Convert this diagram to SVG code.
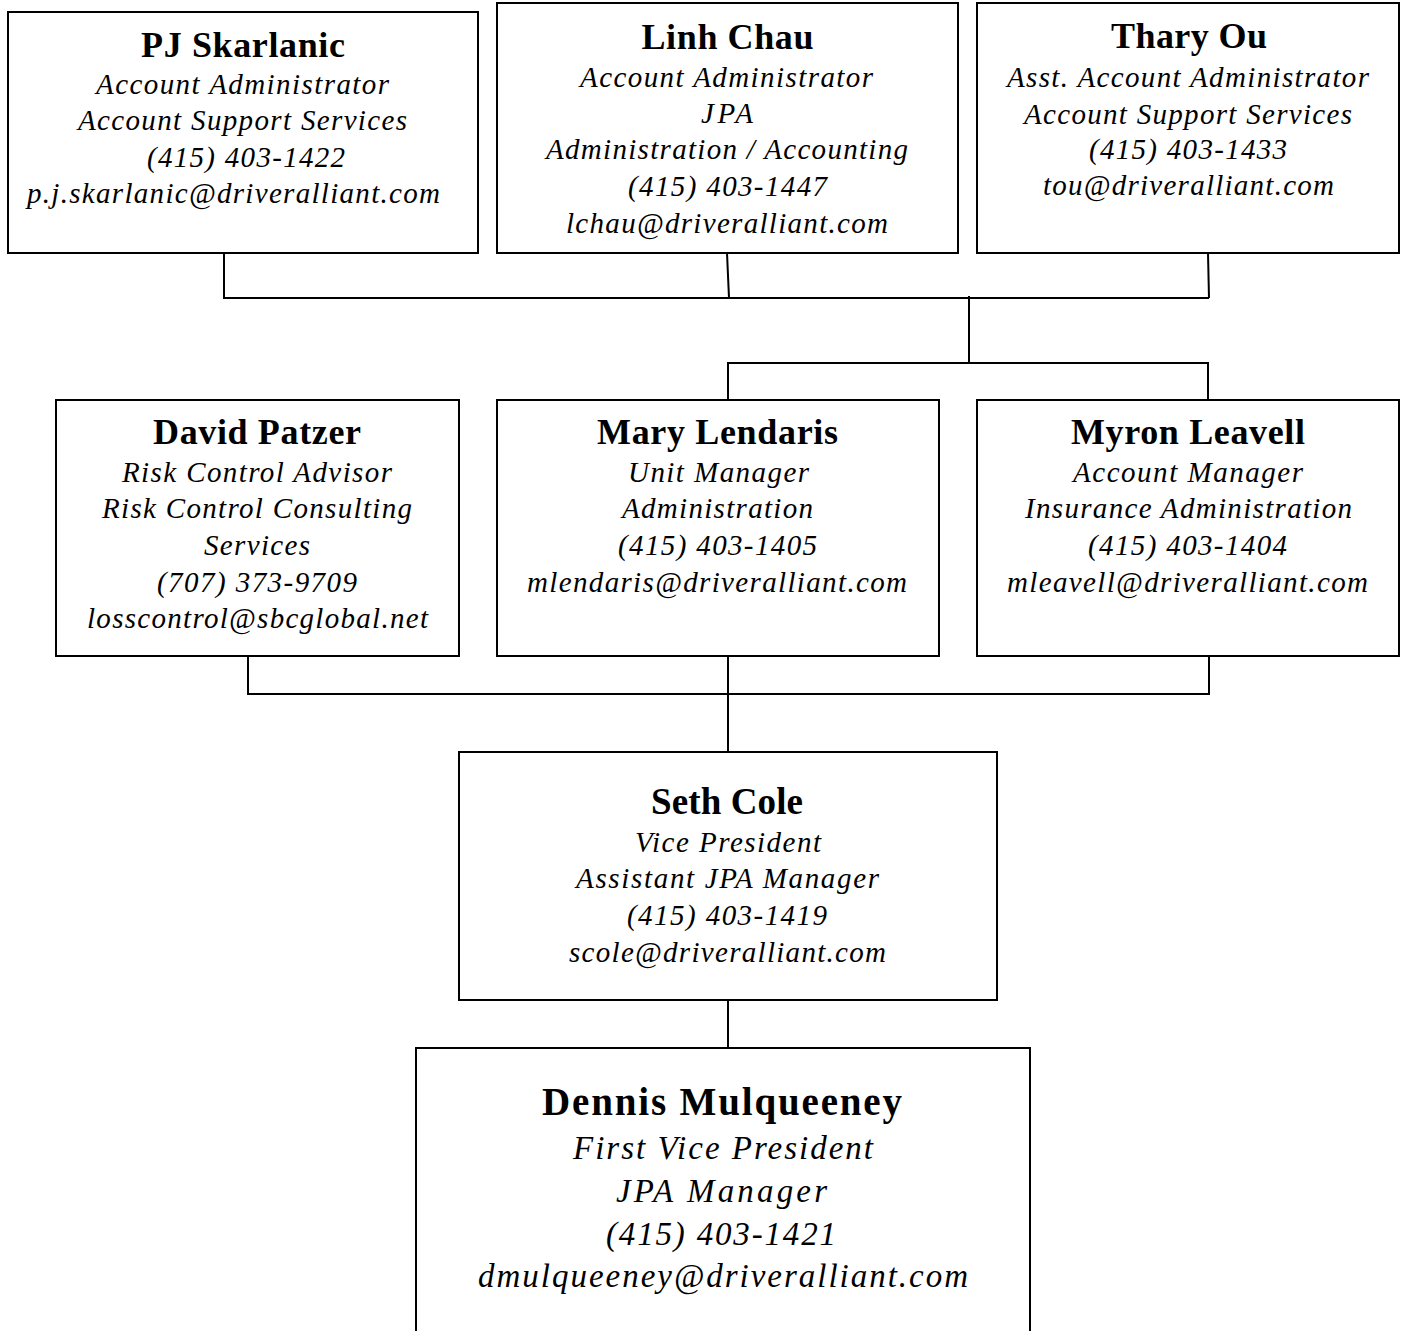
<svg xmlns="http://www.w3.org/2000/svg" width="1403" height="1331" viewBox="0 0 1403 1331">
<style>
.box{fill:#fff;stroke:#000;stroke-width:2}
.c{stroke:#000;stroke-width:2;fill:none}
text{font-family:"Liberation Serif","Times New Roman",serif;fill:#000;text-anchor:middle}
.n{font-weight:bold;font-size:36px}
.i{font-style:italic;font-size:29px}
.n2{font-weight:bold;font-size:37px}
.n3{font-weight:bold;font-size:39px}
.i3{font-style:italic;font-size:33px}
</style>
<rect width="1403" height="1331" fill="#fff"/>
<g id="connectors">
<polyline class="c" points="224,253 224,298 1209,298"/>
<line class="c" x1="727" y1="253" x2="729" y2="298"/>
<line class="c" x1="1208" y1="253" x2="1209" y2="298"/>
<line class="c" x1="969" y1="296" x2="969" y2="363"/>
<polyline class="c" points="728,400 728,363 1208,363 1208,400"/>
<polyline class="c" points="248,656 248,694 1209,694 1209,656"/>
<line class="c" x1="728" y1="656" x2="728" y2="752"/>
<line class="c" x1="728" y1="1000" x2="728" y2="1048"/>
</g>
<g id="pj">
<rect class="box" x="8" y="12" width="470" height="241"/>
<text class="n" x="243" y="57" textLength="204" lengthAdjust="spacing">PJ Skarlanic</text>
<text class="i" x="242.5" y="94" textLength="293" lengthAdjust="spacing">Account Administrator</text>
<text class="i" x="242.5" y="130" textLength="329" lengthAdjust="spacing">Account Support Services</text>
<text class="i" x="246" y="167" textLength="198" lengthAdjust="spacing">(415) 403-1422</text>
<text class="i" x="233.5" y="203" textLength="413" lengthAdjust="spacing">p.j.skarlanic@driveralliant.com</text>
</g>
<g id="linh">
<rect class="box" x="497" y="3" width="461" height="250"/>
<text class="n" x="727.5" y="49" textLength="172" lengthAdjust="spacing">Linh Chau</text>
<text class="i" x="726.5" y="87" textLength="293" lengthAdjust="spacing">Account Administrator</text>
<text class="i" x="727" y="123" textLength="52" lengthAdjust="spacing">JPA</text>
<text class="i" x="727" y="159" textLength="362" lengthAdjust="spacing">Administration / Accounting</text>
<text class="i" x="727.5" y="196" textLength="199" lengthAdjust="spacing">(415) 403-1447</text>
<text class="i" x="727" y="233" textLength="322" lengthAdjust="spacing">lchau@driveralliant.com</text>
</g>
<g id="thary">
<rect class="box" x="977" y="3" width="422" height="250"/>
<text class="n" x="1189" y="48" textLength="156" lengthAdjust="spacing">Thary Ou</text>
<text class="i" x="1188" y="87" textLength="362" lengthAdjust="spacing">Asst. Account Administrator</text>
<text class="i" x="1188" y="124" textLength="328" lengthAdjust="spacing">Account Support Services</text>
<text class="i" x="1188" y="159" textLength="198" lengthAdjust="spacing">(415) 403-1433</text>
<text class="i" x="1188.5" y="195" textLength="291" lengthAdjust="spacing">tou@driveralliant.com</text>
</g>
<g id="david">
<rect class="box" x="56" y="400" width="403" height="256"/>
<text class="n" x="257" y="444" textLength="208" lengthAdjust="spacing">David Patzer</text>
<text class="i" x="257" y="482" textLength="270" lengthAdjust="spacing">Risk Control Advisor</text>
<text class="i" x="257" y="518" textLength="310" lengthAdjust="spacing">Risk Control Consulting</text>
<text class="i" x="257" y="555" textLength="106" lengthAdjust="spacing">Services</text>
<text class="i" x="257" y="592" textLength="200" lengthAdjust="spacing">(707) 373-9709</text>
<text class="i" x="257.5" y="628" textLength="341" lengthAdjust="spacing">losscontrol@sbcglobal.net</text>
</g>
<g id="mary">
<rect class="box" x="497" y="400" width="442" height="256"/>
<text class="n" x="717.5" y="444" textLength="241" lengthAdjust="spacing">Mary Lendaris</text>
<text class="i" x="718.5" y="482" textLength="181" lengthAdjust="spacing">Unit Manager</text>
<text class="i" x="717.5" y="518" textLength="191" lengthAdjust="spacing">Administration</text>
<text class="i" x="717.5" y="555" textLength="199" lengthAdjust="spacing">(415) 403-1405</text>
<text class="i" x="717" y="592" textLength="380" lengthAdjust="spacing">mlendaris@driveralliant.com</text>
</g>
<g id="myron">
<rect class="box" x="977" y="400" width="422" height="256"/>
<text class="n" x="1188" y="444" textLength="234" lengthAdjust="spacing">Myron Leavell</text>
<text class="i" x="1188" y="482" textLength="230" lengthAdjust="spacing">Account Manager</text>
<text class="i" x="1188.5" y="518" textLength="327" lengthAdjust="spacing">Insurance Administration</text>
<text class="i" x="1187.5" y="555" textLength="199" lengthAdjust="spacing">(415) 403-1404</text>
<text class="i" x="1187.5" y="592" textLength="361" lengthAdjust="spacing">mleavell@driveralliant.com</text>
</g>
<g id="seth">
<rect class="box" x="459" y="752" width="538" height="248"/>
<text class="n2" x="727" y="814" textLength="152" lengthAdjust="spacing">Seth Cole</text>
<text class="i" x="728" y="852" textLength="186" lengthAdjust="spacing">Vice President</text>
<text class="i" x="727.5" y="888" textLength="303" lengthAdjust="spacing">Assistant JPA Manager</text>
<text class="i" x="727" y="925" textLength="200" lengthAdjust="spacing">(415) 403-1419</text>
<text class="i" x="727.5" y="962" textLength="317" lengthAdjust="spacing">scole@driveralliant.com</text>
</g>
<g id="dennis">
<rect class="box" x="416" y="1048" width="614" height="300"/>
<text class="n3" x="722" y="1115" textLength="360" lengthAdjust="spacing">Dennis Mulqueeney</text>
<text class="i3" x="723" y="1159" textLength="300" lengthAdjust="spacing">First Vice President</text>
<text class="i3" x="721.5" y="1202" textLength="211" lengthAdjust="spacing">JPA Manager</text>
<text class="i3" x="721" y="1245" textLength="230" lengthAdjust="spacing">(415) 403-1421</text>
<text class="i3" x="723" y="1287" textLength="490" lengthAdjust="spacing">dmulqueeney@driveralliant.com</text>
</g>
</svg>
